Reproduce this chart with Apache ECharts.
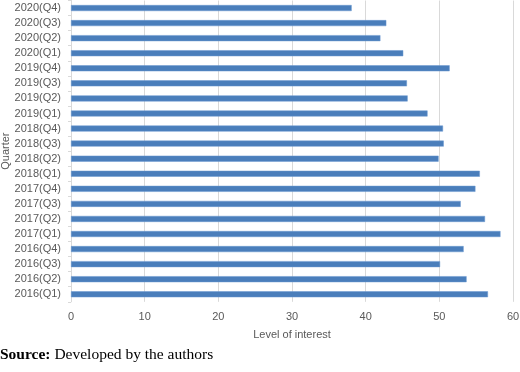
<!DOCTYPE html>
<html>
<head>
<meta charset="utf-8">
<script src="https://cdn.jsdelivr.net/npm/echarts@6/dist/echarts.min.js"></script>
<style>
  html, body { margin: 0; padding: 0; background: #fff; }
  #chart { width: 520px; height: 372px; }
</style>
</head>
<body>
<div id="chart"></div>
<script>
// quarters, bottom to top
const quarters = [
  '2016(Q1)', '2016(Q2)', '2016(Q3)', '2016(Q4)',
  '2017(Q1)', '2017(Q2)', '2017(Q3)', '2017(Q4)',
  '2018(Q1)', '2018(Q2)', '2018(Q3)', '2018(Q4)',
  '2019(Q1)', '2019(Q2)', '2019(Q3)', '2019(Q4)',
  '2020(Q1)', '2020(Q2)', '2020(Q3)', '2020(Q4)'
]
const interest = [
  56.6, 53.7, 50.1, 53.3,
  58.3, 56.2, 52.9, 54.9,
  55.5, 49.9, 50.6, 50.5,
  48.4, 45.7, 45.6, 51.4,
  45.1, 42.0, 42.8, 38.1
]

const axisFont = 'Liberation Sans, Arial, sans-serif'
const grey = '#595959'

const myChart = echarts.init(document.getElementById('chart'))
const option = {
  animation: false,
  title: {
    left: 0,
    top: 347,
    padding: 0,
    text: '{b|Source:} Developed by the authors',
    textStyle: {
      fontFamily: 'Liberation Serif, Times New Roman, serif',
      fontSize: 15.5,
      fontWeight: 'normal',
      color: '#000',
      rich: {
        b: { fontFamily: 'Liberation Serif, Times New Roman, serif', fontSize: 15.5, fontWeight: 'bold', color: '#000' }
      }
    }
  },
  grid: {
    left: 71,
    right: 7,
    top: 0.5,
    height: 301.3,
    containLabel: false,
    outerBoundsMode: 'none'
  },
  xAxis: {
    type: 'value',
    min: 0,
    max: 60,
    interval: 10,
    name: 'Level of interest',
    nameLocation: 'middle',
    nameGap: 28,
    nameMoveOverlap: false,
    nameTextStyle: { color: grey, fontSize: 11, fontFamily: axisFont },
    axisLine: { show: false },
    axisTick: { show: false },
    axisLabel: { color: grey, fontSize: 11, fontFamily: axisFont, margin: 10 },
    splitLine: { show: true, lineStyle: { color: '#d9d9d9', width: 1 } }
  },
  yAxis: {
    type: 'category',
    data: quarters,
    name: 'Quarter',
    nameLocation: 'middle',
    nameRotate: 90,
    nameGap: 60,
    nameMoveOverlap: false,
    nameTextStyle: { color: grey, fontSize: 11, fontFamily: axisFont },
    axisLine: { show: true, lineStyle: { color: '#d9d9d9' } },
    axisTick: { show: true, length: 3, lineStyle: { color: '#d9d9d9' } },
    axisLabel: { color: grey, fontSize: 11, fontFamily: axisFont, margin: 10 }
  },
  series: [
    {
      type: 'bar',
      data: interest,
      barWidth: 6,
      itemStyle: { color: '#4a7ebb', borderColor: '#6b98d0', borderWidth: 0.5 }
    }
  ]
}
myChart.setOption(option)
</script>
</body>
</html>
